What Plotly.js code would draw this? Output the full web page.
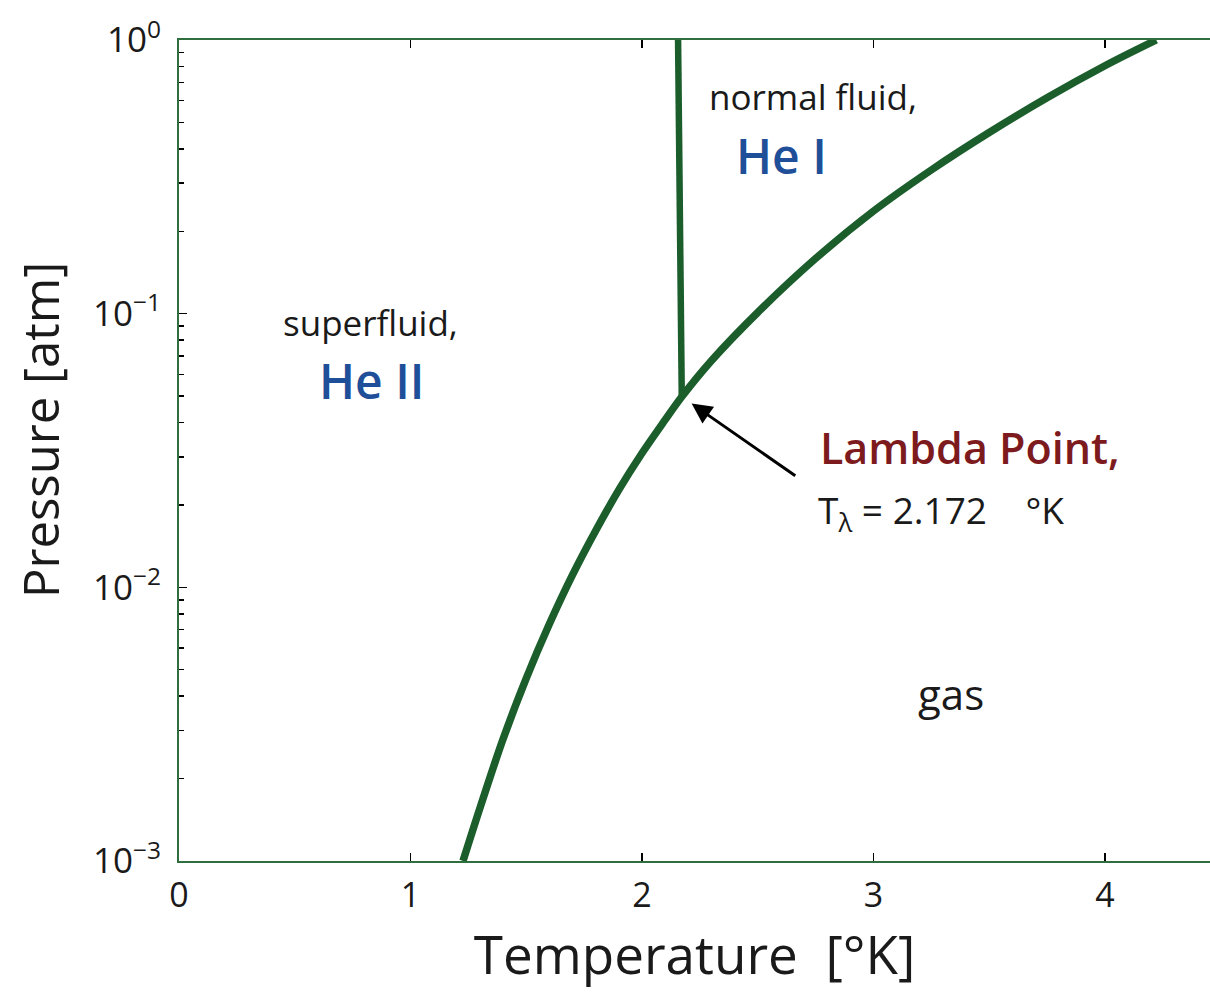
<!DOCTYPE html>
<html>
<head>
<meta charset="utf-8">
<script src="https://cdn.plot.ly/plotly-3.0.1.min.js"></script>
<style>
  html, body { margin: 0; padding: 0; background: #ffffff; }
  #chart { width: 1210px; height: 992px; }
</style>
</head>
<body>
<div id="chart"></div>
<script>
// Saturated vapour pressure of liquid helium-4
const vaporTemp = [1.227, 1.3, 1.4, 1.5, 1.6, 1.7, 1.8, 1.9, 2.0, 2.1, 2.172, 2.3, 2.5, 2.75, 3.0, 3.25, 3.5, 3.75, 4.0, 4.222];
const vaporPres = [0.00100, 0.00156, 0.00279, 0.00465, 0.00734, 0.0111, 0.0161, 0.0227, 0.0309, 0.0409, 0.0497, 0.0673, 0.101, 0.159, 0.237, 0.335, 0.459, 0.615, 0.805, 1.0];

// Lambda line separating He I and He II
const lambdaTemp = [2.172, 2.156];
const lambdaPres = [0.0497, 1.0];

// Lambda point
const lambdaPointT = 2.172;
const lambdaPointP = 0.0497;

// Axis ticks
const xTickVals = [0, 1, 2, 3, 4];
const yTickVals = [0.001, 0.01, 0.1, 1];
const yTickText = ['10<sup>\u22123</sup>', '10<sup>\u22122</sup>', '10<sup>\u22121</sup>', '10<sup>0</sup>'];

// Minor ticks at 2..9 within each decade
const yMinorVals = [];
for (let d = -3; d < 0; d++) {
  for (let m = 2; m <= 9; m++) yMinorVals.push(m * Math.pow(10, d));
}

const curveColor = '#1b5e2c';
const axisColor = '#2f6e3e';
const font = 'Open Sans, Noto Sans, sans-serif';
const ink = '#1a1a1a';

const traces = [
  {
    x: vaporTemp, y: vaporPres, type: 'scatter', mode: 'lines',
    line: { color: curveColor, width: 7.5, shape: 'spline', smoothing: 1 },
    hoverinfo: 'skip', showlegend: false
  },
  {
    x: lambdaTemp, y: lambdaPres, type: 'scatter', mode: 'lines',
    line: { color: curveColor, width: 6.5 },
    hoverinfo: 'skip', showlegend: false
  }
];

const px = v => (v - 179) / 1031;   // horizontal pixel -> paper fraction
const py = v => (861 - v) / 821;    // vertical pixel -> paper fraction

const layout = {
  width: 1210, height: 992,
  margin: { l: 179, r: 0, t: 40, b: 131 },
  paper_bgcolor: '#ffffff', plot_bgcolor: '#ffffff',
  font: { family: font, color: ink },
  showlegend: false,
  xaxis: {
    range: [0, 4.454], tickmode: 'array', tickvals: xTickVals,
    ticks: 'inside', ticklen: 8, tickwidth: 1.5, tickcolor: '#000000',
    showline: true, linecolor: axisColor, linewidth: 2, mirror: 'ticks',
    showgrid: false, zeroline: false,
    tickfont: { family: font, size: 34, color: ink },
    ticklabelstandoff: 3,
    title: { text: 'Temperature \u00a0[\u00b0K]', font: { family: font, size: 53, color: ink }, standoff: 20 }
  },
  yaxis: {
    type: 'log', range: [-3, 0], tickmode: 'array', tickvals: yTickVals, ticktext: yTickText,
    ticks: 'inside', ticklen: 8, tickwidth: 1.5, tickcolor: '#000000',
    minor: { tickmode: 'array', tickvals: yMinorVals, ticks: 'inside', ticklen: 5, tickwidth: 1.5, tickcolor: '#000000', showgrid: false },
    showline: true, linecolor: axisColor, linewidth: 2, mirror: false,
    showgrid: false, zeroline: false,
    tickfont: { family: font, size: 35, color: ink },
    ticklabelstandoff: 9
  },
  annotations: [
    // y axis title
    { xref: 'paper', yref: 'paper', x: px(40), y: py(430), text: 'Pressure [atm]', showarrow: false, textangle: -90,
      xanchor: 'center', yanchor: 'middle', font: { family: font, size: 49, color: ink } },
    { xref: 'paper', yref: 'paper', x: px(813), y: py(96), text: 'normal fluid,', showarrow: false,
      xanchor: 'center', yanchor: 'middle', font: { family: font, size: 35, color: ink } },
    { xref: 'paper', yref: 'paper', x: px(781), y: py(155), text: 'He I', showarrow: false,
      xanchor: 'center', yanchor: 'middle', font: { family: font, size: 48, color: '#1f4f99', weight: 600 } },
    { xref: 'paper', yref: 'paper', x: px(370), y: py(322), text: 'superfluid,', showarrow: false,
      xanchor: 'center', yanchor: 'middle', font: { family: font, size: 35, color: ink } },
    { xref: 'paper', yref: 'paper', x: px(372), y: py(380), text: 'He II', showarrow: false,
      xanchor: 'center', yanchor: 'middle', font: { family: font, size: 48, color: '#1f4f99', weight: 600 } },
    { xref: 'paper', yref: 'paper', x: px(818), y: py(447), text: 'Lambda Point,', showarrow: false,
      xanchor: 'left', yanchor: 'middle', font: { family: font, size: 43, color: '#7d1a1e', weight: 600 } },
    { xref: 'paper', yref: 'paper', x: px(816), y: py(512), text: 'T<sub>\u03bb</sub> = ' + lambdaPointT.toFixed(3) + ' \u00a0 \u00a0\u00b0K', showarrow: false,
      xanchor: 'left', yanchor: 'middle', font: { family: font, size: 37, color: ink } },
    { xref: 'paper', yref: 'paper', x: px(951), y: py(693), text: 'gas', showarrow: false,
      xanchor: 'center', yanchor: 'middle', font: { family: font, size: 42, color: ink } },
    // arrow pointing at the lambda point
    { xref: 'x', yref: 'y', x: lambdaPointT, y: Math.log10(lambdaPointP), text: '', showarrow: true,
      ax: 115, ay: 80, arrowhead: 2, arrowsize: 1.35, arrowwidth: 3, arrowcolor: '#000000', standoff: 12 }
  ]
};

Plotly.newPlot('chart', traces, layout, { displayModeBar: false, staticPlot: true });
</script>
</body>
</html>
